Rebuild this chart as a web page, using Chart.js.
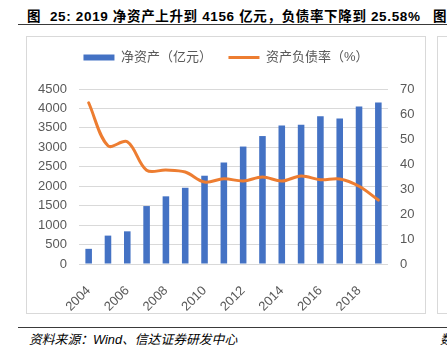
<!DOCTYPE html>
<html>
<head>
<meta charset="utf-8">
<script src="https://cdn.jsdelivr.net/npm/chart.js"></script>
<style>
    body { margin: 0; width: 447px; height: 352px; background: #fff; position: relative; overflow: hidden;
        font-family: "Liberation Sans", "Noto Sans CJK SC", sans-serif; }
    .title { position: absolute; top: 5px; font-size: 13.5px; font-weight: bold; color: #000; white-space: nowrap; letter-spacing: 0.65px; }
    .rule { position: absolute; left: 18px; width: 429px; height: 1px; background: #3a3a3a; }
    .box { position: absolute; top: 36px; height: 276px; border: 1px solid #d9d9d9; }
    #chart-wrap { position: absolute; left: 27px; top: 37px; width: 398px; height: 276px; }
    .source { position: absolute; top: 329px; font-size: 12.8px; font-style: italic; color: #000; white-space: nowrap; }
</style>
</head>
<body>
<div class="title" style="left:27px">图&nbsp; 25: 2019 净资产上升到 4156 亿元，负债率下降到 25.58%</div>
<div class="title" style="left:433px">图</div>
<div class="rule" style="top:24px"></div>
<div class="box" style="left:26px;width:398px"></div>
<div class="box" style="left:437px;width:30px"></div>
<div id="chart-wrap"><canvas id="chart"></canvas></div>
<div class="rule" style="top:327px"></div>
<div class="source" style="left:29px">资料来源：Wind、信达证券研发中心</div>
<div class="source" style="left:440px">数</div>

<script>
// data
let years = ['2004', '2005', '2006', '2007', '2008', '2009', '2010', '2011',
    '2012', '2013', '2014', '2015', '2016', '2017', '2018', '2019']
let netAssets = [390, 730, 840, 1490, 1740, 1960, 2270, 2610, 3020, 3290, 3560, 3580, 3800, 3740, 4050, 4156]
let debtRatio = [64.5, 47.3, 48.9, 37.5, 37.6, 36.8, 32.8, 34.1, 33.2, 34.8, 33.2, 35.2, 33.7, 34.0, 31.1, 25.58]
let leftAxis = { min: 0, max: 4500, step: 500 }
let rightAxis = { min: 0, max: 70, step: 10 }

let blue = '#4472C4'
let orange = '#ED7D31'
let grey = '#595959'

Chart.defaults.font.family = '"Liberation Sans", "Noto Sans CJK SC", sans-serif'
Chart.defaults.font.size = 13
Chart.defaults.color = grey

// push the plot down below the legend
let legendGap = {
    id: 'legendGap',
    beforeUpdate(chart) {
        if (chart.legend && !chart.legend._gapped) {
            let fit = chart.legend.fit
            chart.legend.fit = function () { fit.call(this); this.height += 15 }
            chart.legend._gapped = true
        }
    }
}

new Chart(document.getElementById('chart'), {
    data: {
        labels: years,
        datasets: [
            {
                type: 'line', label: '资产负债率（%）', data: debtRatio, yAxisID: 'y1',
                borderColor: orange, backgroundColor: orange, borderWidth: 3,
                pointRadius: 0, tension: 0.35, borderCapStyle: 'round'
            },
            {
                type: 'bar', label: '净资产（亿元）', data: netAssets, yAxisID: 'y',
                backgroundColor: blue, barPercentage: 0.34, categoryPercentage: 1
            }
        ]
    },
    options: {
        responsive: true,
        maintainAspectRatio: false,
        animation: false,
        layout: { padding: { top: 4 } },
        plugins: {
            tooltip: { enabled: false },
            legend: {
                labels: {
                    usePointStyle: true,
                    pointStyleWidth: 31,
                    padding: 10,
                    color: grey,
                    generateLabels: () => [
                        { text: '净资产（亿元）\u3000', strokeStyle: blue, fillStyle: blue, lineWidth: 6, pointStyle: 'line', datasetIndex: 1, fontColor: grey },
                        { text: '资产负债率（%）', strokeStyle: orange, fillStyle: orange, lineWidth: 3, pointStyle: 'line', datasetIndex: 0, fontColor: grey }
                    ]
                }
            }
        },
        scales: {
            x: {
                grid: { display: false },
                border: { display: false },
                ticks: {
                    autoSkip: false, maxRotation: 45, minRotation: 45, padding: 11,
                    callback: function (v, i) { return i % 2 == 0 ? this.getLabelForValue(v) : '' }
                },
                afterFit(s) { s.height = 49 }
            },
            y: {
                position: 'left', min: leftAxis.min, max: leftAxis.max,
                ticks: { stepSize: leftAxis.step, padding: 12, callback: v => String(v) },
                grid: { color: '#d9d9d9', drawTicks: false },
                border: { display: false },
                afterFit(s) { s.width = 52 }
            },
            y1: {
                position: 'right', min: rightAxis.min, max: rightAxis.max,
                ticks: { stepSize: rightAxis.step, padding: 12 },
                grid: { drawOnChartArea: false, drawTicks: false },
                border: { display: false },
                afterFit(s) { s.width = 37 }
            }
        }
    },
    plugins: [legendGap]
})
</script>
</body>
</html>
